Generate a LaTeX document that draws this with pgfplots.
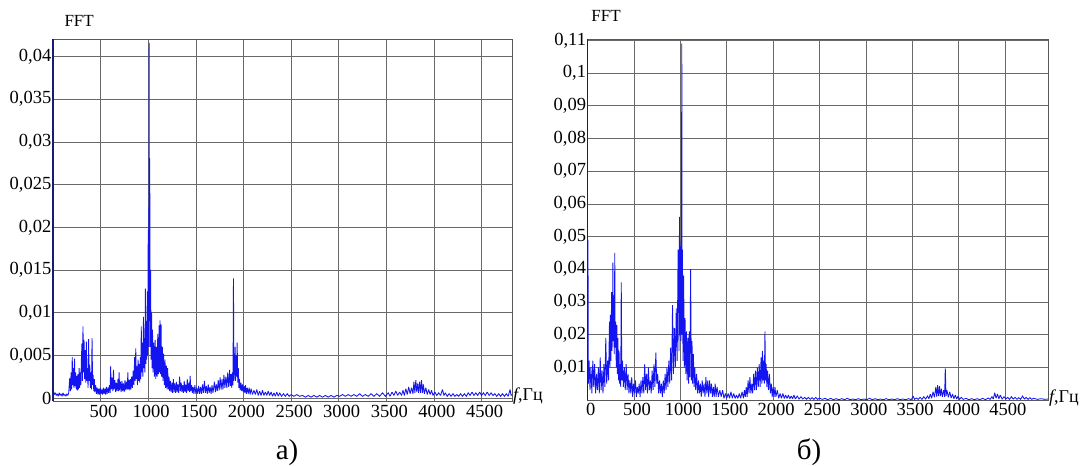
\documentclass[border=0pt]{standalone}
\usepackage{pgfplots}
\pgfplotsset{compat=1.18}
\usepackage{fontspec}
\setmainfont{Liberation Serif}
\definecolor{plotblue}{RGB}{20,20,240}
\definecolor{gridgray}{RGB}{105,105,105}
\definecolor{axisnavy}{RGB}{25,25,120}
\begin{document}
\fontsize{18.5}{22}\selectfont
\begin{tikzpicture}
\path[use as bounding box] (0,0) rectangle (1085pt,466pt);
\pgfplotsset{
  fftaxis/.style={
    scale only axis,
    anchor=south west,
    grid=major,
    major grid style={draw=gridgray, line width=0.6pt},
    axis line style={draw=black!65, line width=0.8pt},
    major tick length=0pt,
    scaled x ticks=false, scaled y ticks=false,
    tick label style={font=\fontsize{18.5}{22}\selectfont},
    yticklabel style={inner sep=1.5pt, anchor=east},
    xticklabel style={inner sep=3pt, anchor=north, xshift=3pt},
    clip mode=individual,
    /pgf/number format/assume math mode=true,
  },
  fftline/.style={color=plotblue, line width=0.85pt, mark=none, line join=miter, miter limit=2},
}
% ---------------- panel a ----------------
\begin{axis}[fftaxis, at={(53pt,64.5pt)}, width=459pt, height=362pt,
  xmin=0, xmax=4820, ymin=-0.00041, ymax=0.0420,
  xtick={500,1000,1500,2000,2500,3000,3500,4000,4500},
  xticklabels={500,1000,1500,2000,2500,3000,3500,4000,4500},
  ytick={0,0.005,0.01,0.015,0.02,0.025,0.03,0.035,0.04},
  yticklabels={0,{0,005},{0,01},{0,015},{0,02},{0,025},{0,03},{0,035},{0,04}},
]
\addplot[fftline] coordinates {
(0,0.0023) (5,0.0008) (15,0.0004) (25,0.0006) (35,0.0003) (45,0.0005) (55,0.0002) (65,0.0006)
(75,0.0003) (85,0.0005) (95,0.0002) (105,0.0006) (115,0.0003) (125,0.0004) (135,0.0002) (145,0.0005)
(155,0.0003) (165,0.0006) (175,0.0023) (182,0.0008) (190,0.0030) (196,0.0010) (202,0.0048) (208,0.0015)
(214,0.0035) (220,0.0012) (226,0.0046) (232,0.0014) (238,0.0030) (244,0.0010) (250,0.0026) (256,0.0009)
(262,0.0028) (268,0.0010) (274,0.0035) (280,0.0012) (286,0.0030) (292,0.0015) (298,0.0045) (304,0.0064)
(308,0.0020) (315,0.0084) (320,0.0030) (326,0.0068) (332,0.0022) (338,0.0056) (344,0.0018) (350,0.0066)
(356,0.0020) (362,0.0035) (368,0.0012) (374,0.0069) (380,0.0020) (386,0.0039) (392,0.0012) (398,0.0030)
(404,0.0010) (410,0.0070) (416,0.0015) (422,0.0027) (428,0.0008) (434,0.0022) (440,0.0007) (448,0.0015)
(456,0.0005) (464,0.0012) (472,0.0004) (480,0.0011) (488,0.0004) (496,0.0012) (504,0.0005) (512,0.0010)
(520,0.0004) (528,0.0012) (536,0.0005) (544,0.0011) (552,0.0004) (560,0.0013) (568,0.0005) (576,0.0012)
(584,0.0006) (592,0.0015) (600,0.0006) (605,0.0037) (612,0.0010) (620,0.0024) (628,0.0008) (635,0.0033)
(642,0.0010) (650,0.0021) (658,0.0007) (666,0.0018) (674,0.0008) (682,0.0022) (688,0.0008) (694,0.0030)
(700,0.0009) (708,0.0019) (716,0.0007) (724,0.0020) (732,0.0008) (740,0.0017) (748,0.0007) (756,0.0021)
(764,0.0009) (772,0.0019) (780,0.0010) (786,0.0030) (792,0.0010) (800,0.0021) (806,0.0009) (812,0.0022)
(818,0.0010) (826,0.0025) (834,0.0012) (842,0.0032) (850,0.0015) (857,0.0048) (863,0.0020) (869,0.0058)
(875,0.0022) (881,0.0037) (887,0.0015) (893,0.0045) (899,0.0020) (905,0.0040) (911,0.0018) (917,0.0048)
(922,0.0022) (927,0.0084) (932,0.0030) (938,0.0065) (944,0.0025) (950,0.0095) (955,0.0035) (960,0.0070)
(965,0.0030) (970,0.0128) (975,0.0040) (980,0.0090) (985,0.0045) (990,0.0125) (995,0.0050) (1000,0.0197)
(1005,0.0060) (1010,0.0416) (1013,0.0090) (1016,0.0281) (1020,0.0060) (1025,0.0150) (1030,0.0045) (1035,0.0100)
(1040,0.0035) (1045,0.0080) (1050,0.0030) (1058,0.0065) (1065,0.0025) (1072,0.0068) (1079,0.0022) (1086,0.0060)
(1093,0.0025) (1100,0.0075) (1107,0.0028) (1114,0.0085) (1119,0.0030) (1124,0.0091) (1130,0.0028) (1135,0.0086)
(1141,0.0025) (1148,0.0060) (1155,0.0020) (1162,0.0052) (1169,0.0015) (1176,0.0045) (1183,0.0012) (1190,0.0038)
(1197,0.0010) (1204,0.0035) (1211,0.0010) (1218,0.0025) (1225,0.0008) (1232,0.0020) (1240,0.0007) (1248,0.0018)
(1256,0.0006) (1264,0.0022) (1272,0.0007) (1280,0.0017) (1288,0.0006) (1296,0.0019) (1304,0.0007) (1312,0.0016)
(1320,0.0006) (1330,0.0025) (1338,0.0008) (1346,0.0018) (1354,0.0007) (1362,0.0015) (1370,0.0006) (1378,0.0020)
(1386,0.0007) (1394,0.0016) (1402,0.0006) (1410,0.0022) (1418,0.0008) (1426,0.0018) (1434,0.0007) (1440,0.0026)
(1448,0.0008) (1456,0.0015) (1464,0.0006) (1472,0.0013) (1480,0.0005) (1490,0.0015) (1500,0.0005) (1510,0.0012)
(1520,0.0005) (1530,0.0014) (1540,0.0005) (1550,0.0013) (1560,0.0005) (1570,0.0016) (1580,0.0006) (1590,0.0020)
(1600,0.0006) (1610,0.0014) (1620,0.0005) (1630,0.0016) (1640,0.0006) (1650,0.0013) (1660,0.0005) (1670,0.0015)
(1680,0.0006) (1695,0.0019) (1705,0.0007) (1715,0.0016) (1725,0.0008) (1735,0.0021) (1745,0.0009) (1755,0.0024)
(1765,0.0010) (1775,0.0022) (1785,0.0010) (1795,0.0027) (1805,0.0012) (1815,0.0025) (1825,0.0012) (1835,0.0030)
(1845,0.0013) (1855,0.0033) (1862,0.0014) (1870,0.0028) (1877,0.0012) (1884,0.0030) (1890,0.0015) (1895,0.0140)
(1900,0.0020) (1906,0.0030) (1912,0.0060) (1917,0.0020) (1923,0.0050) (1929,0.0025) (1934,0.0065) (1940,0.0018)
(1946,0.0035) (1952,0.0012) (1958,0.0022) (1966,0.0009) (1974,0.0018) (1982,0.0008) (1990,0.0016) (1998,0.0007)
(2006,0.0014) (2014,0.0006) (2022,0.0015) (2030,0.0005) (2040,0.0012) (2050,0.0005) (2060,0.0012) (2070,0.0004)
(2080,0.0011) (2095,0.0004) (2110,0.0009) (2125,0.0004) (2140,0.0010) (2155,0.0003) (2170,0.0008) (2185,0.0003)
(2200,0.0009) (2215,0.0003) (2230,0.0007) (2245,0.0003) (2260,0.0008) (2275,0.0003) (2290,0.0007) (2305,0.0002)
(2320,0.0006) (2335,0.0002) (2350,0.0007) (2365,0.0002) (2380,0.0006) (2400,0.0002) (2420,0.0005) (2440,0.0002)
(2460,0.0005) (2480,0.0002) (2500,0.0004) (2530,0.0002) (2560,0.0004) (2590,0.0002) (2620,0.0003) (2650,0.0001)
(2680,0.0003) (2710,0.0001) (2740,0.0003) (2770,0.0001) (2800,0.0003) (2830,0.0001) (2860,0.0003) (2890,0.0001)
(2920,0.0003) (2950,0.0001) (2980,0.0003) (3010,0.0002) (3040,0.0004) (3070,0.0002) (3100,0.0004) (3130,0.0002)
(3160,0.0004) (3190,0.0002) (3220,0.0005) (3250,0.0002) (3280,0.0004) (3310,0.0002) (3340,0.0005) (3370,0.0002)
(3400,0.0005) (3430,0.0002) (3460,0.0006) (3490,0.0002) (3520,0.0006) (3540,0.0002) (3560,0.0007) (3580,0.0003)
(3600,0.0008) (3620,0.0003) (3640,0.0007) (3660,0.0003) (3675,0.0009) (3690,0.0003) (3705,0.0011) (3720,0.0004)
(3735,0.0013) (3750,0.0005) (3765,0.0012) (3780,0.0005) (3790,0.0019) (3800,0.0006) (3810,0.0021) (3820,0.0007)
(3830,0.0017) (3840,0.0006) (3850,0.0019) (3860,0.0006) (3870,0.0021) (3880,0.0006) (3890,0.0016) (3900,0.0005)
(3915,0.0012) (3930,0.0004) (3945,0.0010) (3960,0.0004) (3975,0.0009) (3990,0.0003) (4010,0.0007) (4030,0.0003)
(4050,0.0006) (4070,0.0003) (4090,0.0010) (4105,0.0003) (4120,0.0006) (4140,0.0002) (4160,0.0005) (4180,0.0002)
(4200,0.0005) (4220,0.0002) (4240,0.0004) (4260,0.0002) (4280,0.0005) (4300,0.0002) (4320,0.0005) (4340,0.0002)
(4360,0.0006) (4380,0.0003) (4400,0.0007) (4420,0.0003) (4440,0.0006) (4460,0.0003) (4480,0.0007) (4500,0.0003)
(4520,0.0006) (4540,0.0003) (4560,0.0007) (4580,0.0003) (4600,0.0006) (4620,0.0003) (4640,0.0005) (4660,0.0002)
(4680,0.0005) (4700,0.0002) (4720,0.0005) (4740,0.0002) (4760,0.0005) (4780,0.0002) (4800,0.0010) (4810,0.0003)
(4820,0.0004)
};
\draw[axisnavy, line width=1.2pt] (rel axis cs:0,0) -- (rel axis cs:0,1);
\node[font=\fontsize{17}{20}\selectfont] at (axis description cs:0.057,1.052) {FFT};
\node[anchor=west, inner sep=1pt, font=\fontsize{18}{20}\selectfont] at (axis description cs:1,0.014) {\textit{f},Гц};
\node[font=\fontsize{29}{32}\selectfont] at (axis description cs:0.51,-0.14) {а)};
\end{axis}
% ---------------- panel b ----------------
\begin{axis}[fftaxis, at={(587.7pt,66pt)}, width=460.3pt, height=361pt,
  xmin=0, xmax=4965, ymin=0, ymax=0.1104,
  xtick={0,500,1000,1500,2000,2500,3000,3500,4000,4500},
  xticklabels={0,500,1000,1500,2000,2500,3000,3500,4000,4500},
  ytick={0.01,0.02,0.03,0.04,0.05,0.06,0.07,0.08,0.09,0.1,0.11},
  yticklabels={{0,01},{0,02},{0,03},{0,04},{0,05},{0,06},{0,07},{0,08},{0,09},{0,1},{0,11}},
]
\addplot[fftline] coordinates {
(0,0.0175) (3,0.049) (7,0.005) (15,0.012) (25,0.003) (35,0.010) (45,0.002) (55,0.012)
(65,0.004) (75,0.011) (85,0.002) (95,0.008) (105,0.003) (115,0.010) (125,0.002) (135,0.013)
(145,0.003) (155,0.009) (165,0.002) (175,0.011) (185,0.004) (195,0.019) (205,0.005) (215,0.012)
(225,0.006) (235,0.024) (240,0.010) (245,0.026) (250,0.012) (258,0.033) (262,0.015) (268,0.023)
(272,0.042) (276,0.018) (282,0.032) (286,0.014) (292,0.045) (296,0.016) (302,0.024) (308,0.010)
(314,0.023) (320,0.008) (326,0.019) (332,0.006) (338,0.015) (344,0.005) (350,0.011) (356,0.004)
(362,0.036) (368,0.006) (375,0.012) (385,0.004) (395,0.010) (405,0.003) (415,0.011) (425,0.003)
(435,0.008) (445,0.002) (455,0.006) (465,0.002) (475,0.007) (485,0.001) (495,0.005) (505,0.002)
(515,0.006) (525,0.001) (535,0.004) (545,0.002) (555,0.005) (565,0.001) (575,0.006) (585,0.002)
(595,0.007) (605,0.002) (615,0.011) (625,0.003) (635,0.008) (645,0.002) (655,0.010) (665,0.003)
(675,0.006) (685,0.002) (695,0.009) (705,0.003) (715,0.011) (725,0.004) (735,0.0145) (745,0.005)
(755,0.008) (765,0.002) (775,0.006) (785,0.002) (795,0.005) (805,0.001) (815,0.006) (825,0.002)
(835,0.008) (845,0.003) (855,0.010) (865,0.004) (875,0.012) (885,0.005) (895,0.016) (905,0.006)
(915,0.029) (925,0.008) (935,0.022) (945,0.010) (955,0.028) (965,0.012) (975,0.046) (985,0.015)
(990,0.056) (995,0.020) (1000,0.047) (1005,0.018) (1010,0.035) (1015,0.109) (1018,0.020) (1022,0.046)
(1028,0.012) (1035,0.038) (1042,0.010) (1050,0.025) (1058,0.008) (1065,0.021) (1072,0.006) (1080,0.019)
(1088,0.005) (1095,0.021) (1102,0.007) (1110,0.040) (1118,0.006) (1125,0.018) (1132,0.005) (1140,0.014)
(1148,0.004) (1155,0.010) (1165,0.003) (1175,0.008) (1185,0.002) (1195,0.006) (1205,0.002) (1215,0.005)
(1225,0.001) (1235,0.006) (1245,0.002) (1255,0.005) (1265,0.001) (1275,0.007) (1285,0.002) (1295,0.006)
(1305,0.001) (1315,0.006) (1325,0.002) (1335,0.005) (1345,0.001) (1355,0.004) (1365,0.001) (1375,0.005)
(1385,0.001) (1395,0.004) (1410,0.001) (1425,0.003) (1440,0.001) (1455,0.003) (1470,0.0005) (1485,0.002)
(1500,0.0005) (1515,0.002) (1530,0.0005) (1545,0.0025) (1560,0.0005) (1575,0.002) (1590,0.0005) (1605,0.0015)
(1620,0.0005) (1635,0.002) (1650,0.0005) (1665,0.0025) (1680,0.0005) (1690,0.003) (1700,0.001) (1710,0.004)
(1720,0.001) (1730,0.006) (1740,0.002) (1750,0.007) (1760,0.002) (1770,0.005) (1780,0.002) (1790,0.008)
(1800,0.003) (1810,0.009) (1820,0.003) (1830,0.010) (1840,0.004) (1850,0.011) (1860,0.004) (1870,0.013)
(1878,0.005) (1885,0.015) (1892,0.006) (1898,0.012) (1905,0.005) (1912,0.021) (1918,0.006) (1925,0.011)
(1932,0.004) (1940,0.009) (1950,0.003) (1960,0.008) (1970,0.002) (1980,0.005) (1990,0.001) (2000,0.004)
(2010,0.001) (2020,0.004) (2030,0.001) (2045,0.003) (2060,0.0005) (2075,0.002) (2090,0.0005) (2105,0.002)
(2120,0.0005) (2135,0.0015) (2150,0.0005) (2165,0.0015) (2180,0.0004) (2195,0.0012) (2210,0.0004) (2225,0.0015)
(2240,0.0003) (2260,0.0012) (2280,0.0003) (2300,0.001) (2320,0.0003) (2340,0.0008) (2360,0.0002) (2380,0.0008)
(2400,0.0002) (2420,0.0007) (2440,0.0002) (2460,0.0008) (2480,0.0002) (2500,0.0006) (2530,0.0002) (2560,0.0005)
(2590,0.0001) (2620,0.0005) (2650,0.0001) (2680,0.0004) (2710,0.0001) (2740,0.0004) (2770,0.0001) (2800,0.0005)
(2830,0.0001) (2860,0.0003) (2890,0.0001) (2920,0.0004) (2950,0.0001) (2980,0.0003) (3010,0.0001) (3040,0.0005)
(3070,0.0001) (3100,0.0004) (3130,0.0001) (3160,0.0003) (3190,0.0001) (3220,0.0004) (3250,0.0001) (3280,0.0003)
(3310,0.0001) (3340,0.0004) (3370,0.0001) (3400,0.0003) (3430,0.0001) (3460,0.0004) (3490,0.0001) (3510,0.0012)
(3525,0.0002) (3545,0.0006) (3565,0.0002) (3585,0.0008) (3605,0.0002) (3625,0.0010) (3645,0.0003) (3665,0.0012)
(3680,0.0004) (3695,0.0018) (3710,0.0005) (3725,0.0025) (3740,0.0008) (3755,0.0040) (3765,0.0010) (3775,0.0045)
(3785,0.0012) (3795,0.0042) (3805,0.0012) (3815,0.0035) (3825,0.0010) (3840,0.0030) (3850,0.0010) (3857,0.0097)
(3865,0.0012) (3875,0.0030) (3890,0.0008) (3905,0.0025) (3920,0.0006) (3935,0.0018) (3950,0.0004) (3965,0.0015)
(3980,0.0003) (3995,0.0012) (4010,0.0002) (4030,0.0008) (4050,0.0002) (4080,0.0005) (4110,0.0001) (4140,0.0004)
(4170,0.0001) (4200,0.0004) (4230,0.0001) (4260,0.0005) (4290,0.0001) (4320,0.0006) (4340,0.0002) (4360,0.0010)
(4375,0.0003) (4390,0.0022) (4405,0.0005) (4420,0.0018) (4435,0.0004) (4450,0.0015) (4470,0.0003) (4490,0.0010)
(4510,0.0003) (4530,0.0008) (4550,0.0002) (4570,0.0010) (4590,0.0003) (4610,0.0008) (4630,0.0002) (4650,0.0007)
(4670,0.0002) (4690,0.0012) (4710,0.0003) (4730,0.0008) (4750,0.0002) (4770,0.0007) (4790,0.0002) (4810,0.0005)
(4850,0.0002) (4890,0.0004) (4930,0.0002) (4965,0.0003)
};
\draw[axisnavy, line width=1.2pt] (rel axis cs:0,0) -- (rel axis cs:0,1);
\node[font=\fontsize{17}{20}\selectfont] at (axis description cs:0.040,1.064) {FFT};
\node[anchor=west, inner sep=1pt, font=\fontsize{18}{20}\selectfont] at (axis description cs:1,0.004) {\textit{f},Гц};
\node[font=\fontsize{29}{32}\selectfont] at (axis description cs:0.481,-0.144) {б)};
\end{axis}
\end{tikzpicture}
\end{document}
